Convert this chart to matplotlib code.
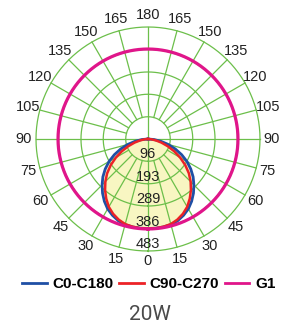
import numpy as np
import matplotlib
matplotlib.use("Agg")
import matplotlib.pyplot as plt
from matplotlib.lines import Line2D

plt.rcParams['font.family'] = ['Liberation Sans', 'DejaVu Sans']

# intensity (cd), gamma 0..90 in 5 deg steps
angles = [0, 5, 10, 15, 20, 25, 30, 35, 40, 45, 50, 55, 60, 65, 70, 75, 80, 85, 90]
c0_c180 = [386, 386, 385, 382, 375, 363, 348, 328, 305, 280, 254, 225, 194, 160, 125, 90, 56, 26, 0]
c90_c270 = [386, 386, 384, 380, 370, 356, 338, 314, 288, 260, 230, 196, 160, 124, 90, 60, 34, 14, 0]
g1 = 388

ring_values = [96, 193, 289, 386, 483]
angle_ticks = list(range(0, 181, 15))

green = '#6cbf4a'
blue = '#1f4fa5'
red = '#ec2227'
magenta = '#e0158a'

fig = plt.figure(figsize=(2.89, 3.29), dpi=100)
ax = fig.add_axes([36 / 289, 78 / 329, 224 / 289, 224 / 329], projection='polar')
ax.set_theta_zero_location('S')
ax.set_rlim(0, 483)
ax.grid(False)
ax.set_xticks([])
ax.set_yticks([])
ax.spines['polar'].set_visible(False)

ang = np.radians(angles)
full_th = np.concatenate([-ang[::-1], ang[1:]])
blue_r = np.concatenate([c0_c180[::-1], c0_c180[1:]])
red_r = np.concatenate([c90_c270[::-1], c90_c270[1:]])

# yellow fill under the photometric curves
ax.fill(full_th, blue_r, color='#f8f6c2', zorder=1)

# grid
circ = np.linspace(0, 2 * np.pi, 361)
for r in ring_values:
    ax.plot(circ, np.full_like(circ, r), color=green, lw=0.9, zorder=2, clip_on=False)
for a in range(0, 360, 15):
    t = np.radians(a)
    r0 = 0 if a % 90 == 0 else ring_values[0]
    ax.plot([t, t], [r0, ring_values[-1]], color=green, lw=0.9, zorder=2, clip_on=False)

ax.plot(full_th, blue_r, color=blue, lw=2.0, zorder=3)
ax.plot(full_th, red_r, color=red, lw=1.8, zorder=4)
ax.plot(circ, np.full_like(circ, g1), color=magenta, lw=2.3, zorder=5)

# radial value labels
for r in ring_values:
    ax.text(0, r - 30, str(r), ha='center', va='center', fontsize=10.5,
            color='#222222', zorder=6)

# angle labels on both sides
for a in angle_ticks:
    rr = 525 if a == 0 else 535
    for s in ([1] if a in (0, 180) else [1, -1]):
        ax.text(np.radians(s * a), rr, str(a), ha='center', va='center',
                fontsize=10.5, color='#222222', clip_on=False)

handles = [Line2D([], [], color=blue, lw=2.0),
           Line2D([], [], color=red, lw=2.0),
           Line2D([], [], color=magenta, lw=2.0)]
fig.legend(handles, ['C0-C180', 'C90-C270', 'G1'], loc='center',
           bbox_to_anchor=(0.515, 45 / 329), ncol=3, frameon=False,
           handlelength=1.6, handletextpad=0.4, columnspacing=0.35,
           borderpad=0, prop={'weight': 'bold', 'size': 11})

fig.text(0.52, 14 / 329, '20W', ha='center', va='center', fontsize=15,
         color='#4a4a4a', family=['Roboto', 'DejaVu Sans'])

fig.savefig('out.png', dpi=100)
